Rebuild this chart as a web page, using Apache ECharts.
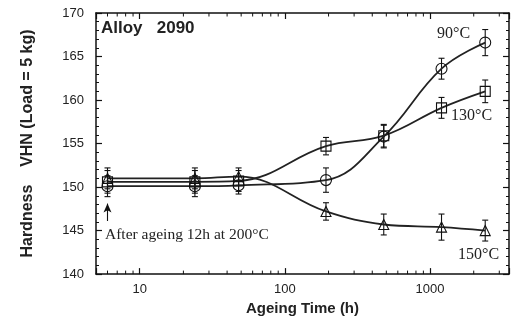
<!DOCTYPE html>
<html><head><meta charset="utf-8">
<script src="https://cdn.jsdelivr.net/npm/echarts@6/dist/echarts.min.js"></script>
<style>html,body{margin:0;padding:0;background:#fff}#c{width:522px;height:321px}</style>
</head><body><div id="c"></div>
<script>
var times = [6, 24, 48, 192, 480, 1200, 2400];
var hv90  = [150.1, 150.1, 150.2, 150.8, 155.8, 163.6, 166.6];
var err90 = [1.2, 1.2, 1.0, 1.4, 1.3, 1.2, 1.5];
var hv130  = [150.6, 150.6, 150.7, 154.7, 155.9, 159.1, 161.0];
var err130 = [1.3, 1.3, 1.2, 1.0, 1.3, 1.2, 1.3];
var hv150  = [151.0, 151.0, 151.2, 147.2, 145.7, 145.4, 145.0];
var err150 = [1.2, 1.2, 1.0, 1.0, 1.2, 1.5, 1.2];
var xTicks = [10, 100, 1000];
var xMinor = [6, 7, 8, 9, 20, 30, 40, 50, 60, 70, 80, 90, 200, 300, 400, 500, 600, 700, 800, 900, 2000, 3000];
var xMin = 5, xMax = 3500, yMin = 140, yMax = 170;

function pairs(xs, ys){ return xs.map(function(x,i){return [x, ys[i]];}); }
function errData(xs, ys, es){ return xs.map(function(x,i){return [x, ys[i]-es[i], ys[i]+es[i]];}); }

var chart = echarts.init(document.getElementById('c'), null, {renderer:'canvas'});
var axisLine = {show:true, lineStyle:{color:'#111', width:1.5}};
var lbl = {color:'#222', fontFamily:'Liberation Sans, Arial', fontSize:13};

function errSeries(data){
  return {
    type:'custom', xAxisIndex:0, yAxisIndex:0, data:data, z:3, silent:true,
    encode:{x:0, y:[1,2]},
    renderItem:function(params, api){
      var x = api.value(0), lo = api.value(1), hi = api.value(2);
      var a = api.coord([x, hi]), b = api.coord([x, lo]);
      var w = 3, st = {stroke:'#111', lineWidth:1.1};
      return {type:'group', children:[
        {type:'line', shape:{x1:a[0], y1:a[1], x2:b[0], y2:b[1]}, style:st},
        {type:'line', shape:{x1:a[0]-w, y1:a[1], x2:a[0]+w, y2:a[1]}, style:st},
        {type:'line', shape:{x1:b[0]-w, y1:b[1], x2:b[0]+w, y2:b[1]}, style:st}
      ]};
    }
  };
}
function lineSeries(name, data, symbol, size){
  return {
    name:name, type:'line', data:data, smooth:0.4, symbol:symbol, symbolSize:size,
    showAllSymbol:true, z:4,
    lineStyle:{color:'#222', width:1.8},
    itemStyle:{color:'rgba(255,255,255,0)', borderColor:'#111', borderWidth:1.1}
  };
}

var option = {
  backgroundColor:'#fff',
  animation:false,
  grid:{left:96, right:13, top:13, bottom:43},
  xAxis:[{
    type:'log', logBase:10, min:xMin, max:xMax, position:'bottom',
    name:'Ageing Time (h)', nameLocation:'middle', nameGap:20,
    nameTextStyle:{fontFamily:'Liberation Sans, Arial', fontWeight:'bold', fontSize:15, color:'#222'},
    axisLine:axisLine, axisTick:{show:true, inside:true, length:6, lineStyle:{color:'#111', width:1.2}},
    axisLabel:Object.assign({margin:9, customValues:xTicks, formatter:function(v){return String(Math.round(v));}}, lbl),
    splitLine:{show:false}
  },{
    type:'log', logBase:10, min:xMin, max:xMax, position:'top',
    axisLine:axisLine, axisTick:{show:true, inside:true, length:6, lineStyle:{color:'#111', width:1.2}},
    axisLabel:{show:false}, splitLine:{show:false}
  }],
  yAxis:[{
    type:'value', min:yMin, max:yMax, interval:5, position:'left',
    name:'Hardness    VHN (Load = 5 kg)', nameLocation:'middle', nameGap:60,
    nameTextStyle:{fontFamily:'Liberation Sans, Arial', fontWeight:'bold', fontSize:16, color:'#222'},
    axisLine:axisLine, axisTick:{show:true, inside:true, length:6, lineStyle:{color:'#111', width:1.2}},
    minorTick:{show:true, splitNumber:5, length:3, lineStyle:{color:'#111', width:1}},
    axisLabel:Object.assign({margin:12}, lbl), splitLine:{show:false}
  },{
    type:'value', min:yMin, max:yMax, interval:5, position:'right',
    axisLine:axisLine, axisTick:{show:true, inside:true, length:6, lineStyle:{color:'#111', width:1.2}},
    minorTick:{show:true, splitNumber:5, length:3, lineStyle:{color:'#111', width:1}},
    axisLabel:{show:false}, splitLine:{show:false}
  }],
  series:[
    {
      type:'custom', xAxisIndex:0, yAxisIndex:0, silent:true, z:2,
      data:xMinor.map(function(v){return [v, yMin];}),
      encode:{x:0, y:1}, clip:false,
      renderItem:function(params, api){
        var v = api.value(0);
        var b = api.coord([v, yMin]), t = api.coord([v, yMax]);
        var st = {stroke:'#111', lineWidth:1};
        return {type:'group', children:[
          {type:'line', shape:{x1:b[0], y1:b[1], x2:b[0], y2:b[1]-3.5}, style:st},
          {type:'line', shape:{x1:t[0], y1:t[1], x2:t[0], y2:t[1]+3.5}, style:st}
        ]};
      }
    },
    errSeries(errData(times, hv90, err90)),
    errSeries(errData(times, hv130, err130)),
    errSeries(errData(times, hv150, err150)),
    lineSeries('90°C', pairs(times, hv90), 'circle', 11),
    lineSeries('130°C', pairs(times, hv130), 'rect', 10),
    Object.assign(lineSeries('150°C', pairs(times, hv150), 'triangle', 10), {
      markLine:{
        silent:true, symbol:['none','arrow'], symbolSize:[6,9],
        label:{show:false},
        lineStyle:{color:'#111', width:1.1, type:'solid'},
        data:[[{coord:[times[0], 146.1]}, {coord:[times[0], 148.1]}]]
      }
    })
  ],
  graphic:[
    {type:'text', left:101, top:20, style:{text:'Alloy   2090', font:'bold 17px "Liberation Sans", Arial', fill:'#222'}},
    {type:'text', left:437, top:26, style:{text:'90°C', font:'16px "Liberation Serif", "Times New Roman"', fill:'#222'}},
    {type:'text', left:451, top:108, style:{text:'130°C', font:'16px "Liberation Serif", "Times New Roman"', fill:'#222'}},
    {type:'text', left:458, top:247, style:{text:'150°C', font:'16px "Liberation Serif", "Times New Roman"', fill:'#222'}},
    {type:'text', left:105, top:227, style:{text:'After ageing 12h at 200°C', font:'15.5px "Liberation Serif", "Times New Roman"', fill:'#222'}}
  ]
};
chart.setOption(option);
</script></body></html>
